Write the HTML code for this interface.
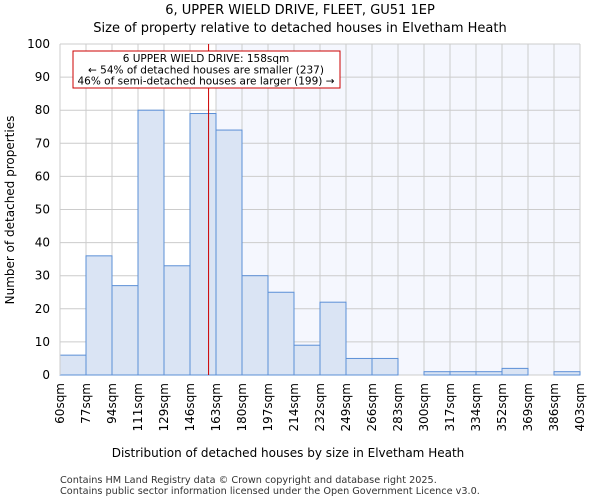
<!DOCTYPE html>
<html><head><meta charset="utf-8"><style>
body{margin:0;background:#fff;font-family:"DejaVu Sans","Liberation Sans",sans-serif}
text{font-family:"DejaVu Sans","Liberation Sans",sans-serif}
</style></head><body>
<svg id="chart" width="600" height="500">
<text x="300" y="14" text-anchor="middle" font-size="13">6, UPPER WIELD DRIVE, FLEET, GU51 1EP</text>
<text x="300" y="32" text-anchor="middle" font-size="13">Size of property relative to detached houses in Elvetham Heath</text>
<g id="plot"></g>
<text x="288" y="457" text-anchor="middle" font-size="12">Distribution of detached houses by size in Elvetham Heath</text>
<text transform="translate(14,210) rotate(-90)" text-anchor="middle" font-size="12">Number of detached properties</text>
<text x="60" y="483" font-size="9.7" fill="#333">Contains HM Land Registry data © Crown copyright and database right 2025.</text>
<text x="60" y="494" font-size="9.7" fill="#333">Contains public sector information licensed under the Open Government Licence v3.0.</text>
</svg>
<script>
const categories=["60sqm","77sqm","94sqm","111sqm","129sqm","146sqm","163sqm","180sqm","197sqm","214sqm","232sqm","249sqm","266sqm","283sqm","300sqm","317sqm","334sqm","352sqm","369sqm","386sqm","403sqm"];
const counts=[6,36,27,80,33,79,74,30,25,9,22,5,5,0,1,1,1,2,0,1];
const yTicks=[0,10,20,30,40,50,60,70,80,90,100];
const binStart=60, binWidth=17.15, propertySize=158;
const X0=60,X1=580,Y0=375,Y1=44,NS="http://www.w3.org/2000/svg";
const bw=(X1-X0)/counts.length;
const x=i=>X0+i*bw;
const xv=v=>X0+(v-binStart)/binWidth*bw;
const y=v=>Y0-(v/100)*(Y0-Y1);
const g=document.getElementById('plot');
function mk(t,a){const e=document.createElementNS(NS,t);for(const k in a)e.setAttribute(k,a[k]);g.appendChild(e);return e;}
const lineX=xv(propertySize);
const shadeStart=x(Math.ceil((propertySize-binStart)/binWidth));
let r=mk('rect',{x:shadeStart,y:Y1,width:X1-shadeStart,height:Y0-Y1,fill:'#f5f7fe'});


yTicks.forEach(t=>{
 let l=mk('line',{x1:X0,x2:X1,y1:y(t),y2:y(t),stroke:'#ccc','stroke-width':1});
 
 
 let tx=mk('text',{x:X0-10,y:y(t)+4,'text-anchor':'end','font-size':12});
 tx.textContent=t;
 
 
});
categories.forEach((c,i)=>{
 let l=mk('line',{x1:x(i),x2:x(i),y1:Y1,y2:Y0,stroke:'#ccc','stroke-width':1});
 
 
 let tx=mk('text',{transform:`translate(${x(i)+4},${Y0+8}) rotate(-90)`,'text-anchor':'end','font-size':12});
 tx.textContent=c;
 
 
});
counts.forEach((v,i)=>{
 if(v<=0)return;
 let b=mk('rect',{x:x(i),y:y(v),width:bw,height:Y0-y(v),fill:'#dae4f4',stroke:'#5b8fd6','stroke-width':1});
 
 
});
let ax=mk('line',{x1:X0,x2:X0,y1:Y1,y2:Y0,stroke:'#ccc'});


let rl=mk('line',{x1:lineX,x2:lineX,y1:Y1,y2:Y0,stroke:'#cc0000','stroke-width':1});


let box=mk('rect',{x:73,y:51,width:267,height:37,fill:'#fff',stroke:'#cc0000','stroke-width':1});


["6 UPPER WIELD DRIVE: 158sqm","← 54% of detached houses are smaller (237)","46% of semi-detached houses are larger (199) →"].forEach((s,k)=>{
 let t=mk('text',{x:206,y:62+k*11.3,'text-anchor':'middle','font-size':10.5});
 t.textContent=s;
 
 
});
</script>
</body></html>
